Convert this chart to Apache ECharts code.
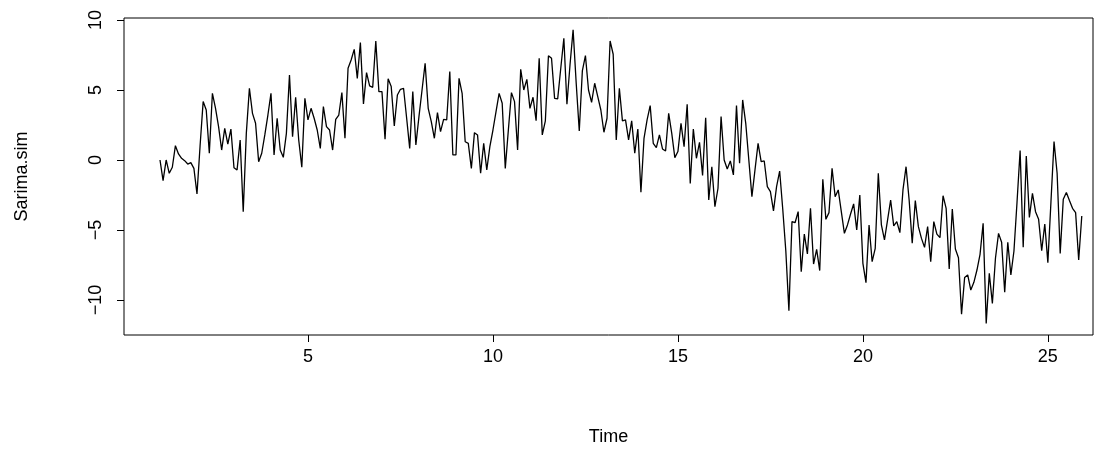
<!DOCTYPE html>
<html><head><meta charset="utf-8">
<script src="https://cdn.jsdelivr.net/npm/echarts@6/dist/echarts.min.js"></script>
<style>html,body{margin:0;padding:0;background:#fff}#c{width:1112px;height:452px}</style>
</head><body><div id="c"></div>
<script>
const startTime = 1;
const frequency = 12;
const sarimaSim = [
 0.0,-1.48,0.0,-0.95,-0.52,1.02,0.43,0.12,-0.05,-0.29,
 -0.19,-0.6,-2.43,1.0,4.17,3.57,0.48,4.76,3.7,2.38,
 0.71,2.26,1.14,2.21,-0.55,-0.71,1.43,-3.7,1.9,5.12,
 3.33,2.62,-0.12,0.48,1.79,3.21,4.76,0.36,2.98,0.71,
 0.19,1.9,6.07,1.67,4.48,1.43,-0.52,4.40,2.86,3.69,
 2.98,2.14,0.83,3.81,2.38,2.14,0.71,2.90,3.21,4.81,
 1.55,6.55,7.14,7.9,5.83,8.38,4.0,6.24,5.29,5.19,
 8.5,4.88,4.88,1.48,5.8,5.24,2.43,4.64,5.05,5.12,
 3.0,0.83,4.88,1.07,3.1,5.0,6.9,3.69,2.74,1.55,
 3.38,2.02,2.90,2.86,6.31,0.36,0.36,5.83,4.76,1.3,
 1.19,-0.6,1.95,1.79,-0.95,1.19,-0.71,0.95,2.14,3.45,
 4.76,4.05,-0.6,2.14,4.81,4.17,0.71,6.48,5.0,5.76,
 3.69,4.48,2.81,7.26,1.79,2.8,7.45,7.26,4.40,4.36,
 6.55,8.69,3.98,6.8,9.29,5.5,2.07,6.36,7.45,5.0,
 4.12,5.48,4.52,3.57,1.98,2.98,8.5,7.55,1.43,5.12,
 2.79,2.86,1.43,2.79,0.48,2.21,-2.31,1.55,2.86,3.88,
 1.19,0.88,1.79,0.79,0.64,3.33,1.9,0.17,0.6,2.62,
 0.95,3.98,-1.67,2.21,0.12,1.26,-1.1,3.02,-2.86,-0.48,
 -3.33,-2.02,3.1,0.0,-0.64,-0.07,-1.07,3.88,-0.24,4.29,
 2.62,0.0,-2.62,-0.71,1.19,-0.12,-0.07,-1.9,-2.26,-3.64,
 -1.9,-0.79,-3.5,-6.5,-10.76,-4.4,-4.48,-3.69,-7.98,-5.29,
 -6.71,-3.45,-7.43,-6.38,-7.9,-1.38,-4.24,-3.76,-0.6,-2.62,
 -2.14,-3.69,-5.24,-4.64,-3.86,-3.14,-5.0,-2.5,-7.38,-8.76,
 -4.64,-7.26,-6.31,-0.95,-4.64,-5.71,-4.29,-2.86,-4.71,-4.4,
 -5.19,-2.14,-0.48,-2.86,-5.95,-2.9,-4.76,-5.6,-6.24,-4.76,
 -7.26,-4.4,-5.3,-5.55,-2.55,-3.45,-7.79,-3.5,-6.36,-6.98,
 -11.02,-8.4,-8.21,-9.29,-8.74,-7.86,-6.74,-4.52,-11.67,-8.1,
 -10.24,-7.02,-5.24,-5.88,-9.45,-5.88,-8.21,-6.5,-3.0,0.67,
 -6.24,0.29,-4.1,-2.38,-3.69,-4.24,-6.48,-4.57,-7.33,-3.0,
 1.31,-0.95,-6.67,-2.81,-2.33,-2.9,-3.45,-3.76,-7.14,-4.0
];
const xTicks = [5, 10, 15, 20, 25];
const yTicks = [-10, -5, 0, 5, 10];
const xName = 'Time';
const yName = 'Sarima.sim';

const data = sarimaSim.map((v, i) => [startTime + i / frequency, v]);
const fmt = v => String(v).replace('-', '\u2212');
const font = 'Liberation Sans, Arial, Helvetica, sans-serif';
const FS = 18;

const chart = echarts.init(document.getElementById('c'), null, {renderer: 'canvas'});
chart.setOption({
  animation: false,
  backgroundColor: '#fff',
  grid: {left: 124, top: 18, width: 969, height: 317, show: true,
         borderColor: '#000', borderWidth: 1, backgroundColor: 'transparent',
         containLabel: false, outerBoundsMode: 'none'},
  xAxis: {
    type: 'value', min: 0.027, max: 26.22,
    splitLine: {show: false},
    axisLine: {show: false, onZero: false},
    axisTick: {show: true, customValues: xTicks, length: 7, lineStyle: {color: '#000', width: 1}},
    axisLabel: {customValues: xTicks, margin: 13, fontSize: FS, color: '#000', fontFamily: font, formatter: fmt},
    name: xName, nameLocation: 'middle', nameGap: 93,
    nameTextStyle: {fontSize: FS, color: '#000', fontFamily: font}
  },
  yAxis: {
    type: 'value', min: -12.5, max: 10.14,
    splitLine: {show: false},
    axisLine: {show: false, onZero: false},
    axisTick: {show: true, customValues: yTicks, length: 7, lineStyle: {color: '#000', width: 1}},
    axisLabel: {customValues: yTicks, margin: 19, rotate: 90, fontSize: FS, color: '#000', fontFamily: font, formatter: fmt},
    name: yName, nameLocation: 'middle', nameGap: 93,
    nameTextStyle: {fontSize: FS, color: '#000', fontFamily: font}
  },
  series: [{
    type: 'line', data: data, showSymbol: false, symbol: 'none',
    lineStyle: {color: '#000', width: 1.3}, silent: true
  }]
});
</script></body></html>
